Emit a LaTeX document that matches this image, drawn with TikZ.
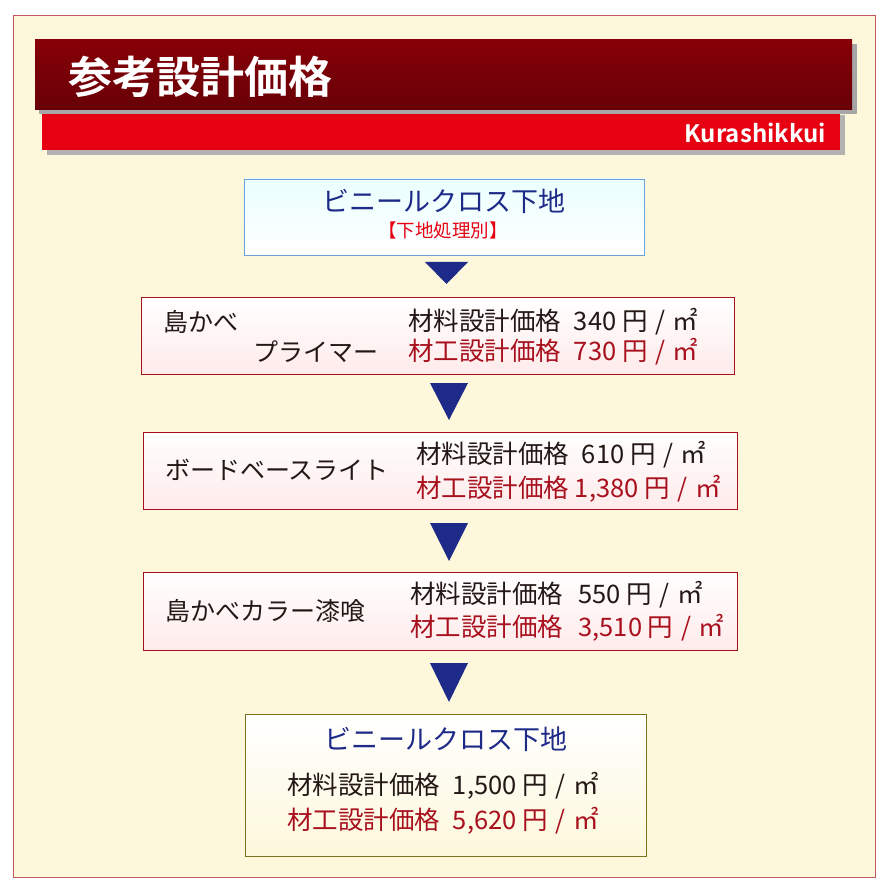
\documentclass[tikz,border=0pt]{standalone}
\usepackage{fontspec}
\setmainfont{Noto Sans CJK JP}[BoldFont={Noto Sans CJK JP Bold}]
\usetikzlibrary{shadows}
\definecolor{cream}{HTML}{FDF8DC}
\definecolor{dred}{HTML}{7A0008}
\definecolor{bred}{HTML}{E60012}
\definecolor{navy}{HTML}{1D2A88}
\definecolor{tred}{HTML}{A8101E}
\definecolor{tblk}{HTML}{231815}
\newcommand{\myslash}{\hspace{0.3em}/\hspace{0.3em}}
\begin{document}
\begin{tikzpicture}[x=1pt,y=-1pt,
  stepbox/.style={draw=#1,line width=0.8pt},
  price/.style={anchor=west,font=\fontsize{25.5}{27}\selectfont,inner sep=0},
  lbl/.style={anchor=west,font=\fontsize{25}{27}\selectfont,inner sep=0,text=tblk},
  tri/.style={fill=navy}]
\useasboundingbox (0,0) rectangle (890,890);
\draw[draw=tred!70,fill=cream,line width=0.6pt] (13,15) rectangle (875,877);
% banners
\fill[gray!60] (47,115) rectangle (845,155);
\fill[bred] (42,110) rectangle (840,150);
\fill[black!35] (39,44) rectangle (857,114);
\shade[top color=dred!90!red, bottom color=dred!85!black] (35,40) rectangle (852,110);
\node[anchor=west,text=white,font=\bfseries\fontsize{44}{46}\selectfont,inner sep=0] (title) at (68,77) {参考設計価格};
\node[anchor=east,text=white,font=\bfseries\fontsize{24}{26}\selectfont,inner sep=0] (brand) at (826,133) {Kurashikkui};
% box1
\shade[top color=cyan!8, bottom color=white] (244,179) rectangle (644,255);
\draw[stepbox=cyan!60!blue!60] (244,179) rectangle (644,255);
\node[text=navy,font=\fontsize{27}{29}\selectfont,inner sep=0] (b1t) at (444,201) {ビニールクロス下地};
\node[text=bred,font=\fontsize{18.5}{20}\selectfont,inner sep=0] (b1s) at (443,230) {【下地処理別】};
\fill[tri] (425,262) -- (468,262) -- (446.5,284) -- cycle;
% box2
\shade[top color=white, bottom color=red!8] (141,297) rectangle (734,374);
\draw[stepbox=tred] (141,297) rectangle (734,374);
\node[lbl] (b2a) at (163,322) {島かべ};
\node[lbl,anchor=east] (b2b) at (379,352) {プライマー};
\node[price,text=tblk] (b2p) at (408,322) {材料設計価格\hspace{0.5em}340 円\myslash ㎡};
\node[price,text=tred] (b2q) at (408,352) {材工設計価格\hspace{0.5em}730 円\myslash ㎡};
\fill[tri] (430,383) -- (468,383) -- (449,420) -- cycle;
% box3
\shade[top color=white, bottom color=red!8] (143,432) rectangle (737,509);
\draw[stepbox=tred] (143,432) rectangle (737,509);
\node[lbl] (b3a) at (165,470) {ボードベースライト};
\node[price,text=tblk] (b3p) at (416,455) {材料設計価格\hspace{0.5em}610 円\myslash ㎡};
\node[price,text=tred] (b3q) at (416,489) {材工設計価格 1,380 円\myslash ㎡};
\fill[tri] (430,523) -- (468,523) -- (449,561) -- cycle;
% box4
\shade[top color=white, bottom color=red!8] (143,572) rectangle (737,650);
\draw[stepbox=tred] (143,572) rectangle (737,650);
\node[lbl] (b4a) at (165,611) {島かべカラー漆喰};
\node[price,text=tblk] (b4p) at (410,595) {材料設計価格\hspace{0.6em}550 円\myslash ㎡};
\node[price,text=tred] (b4q) at (410,628) {材工設計価格\hspace{0.6em}3,510 円\myslash ㎡};
\fill[tri] (430,663) -- (468,663) -- (449,702) -- cycle;
% box5
\shade[top color=white, bottom color=cream] (245,714) rectangle (646,856);
\draw[stepbox=olive!80!black] (245,714) rectangle (646,856);
\node[text=navy,font=\fontsize{27}{29}\selectfont,inner sep=0] (b5t) at (446,739) {ビニールクロス下地};
\node[price,text=tblk] (b5p) at (287,786) {材料設計価格\hspace{0.5em}1,500 円\myslash ㎡};
\node[price,text=tred] (b5q) at (287,821) {材工設計価格\hspace{0.5em}5,620 円\myslash ㎡};
\end{tikzpicture}
\end{document}
